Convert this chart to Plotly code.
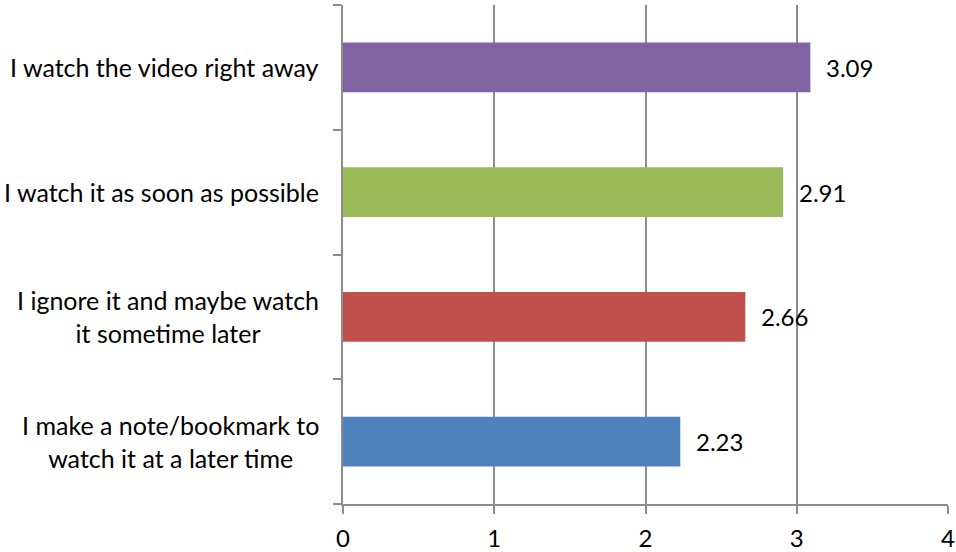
import plotly.graph_objects as go

# Survey responses, bottom to top as drawn
categories = [
    "I make a note/bookmark to<br>watch it at a later time",
    "I ignore it and maybe watch<br>it sometime later",
    "I watch it as soon as possible",
    "I watch the video right away",
]
values = [2.23, 2.66, 2.91, 3.09]
bar_colors = ["#4F81BD", "#C0504D", "#9BBB59", "#8064A2"]
x_ticks = [0, 1, 2, 3, 4]

FONT = "Lato"
GRID = "#8C8C8C"
FS = 25

fig = go.Figure()
fig.add_trace(go.Bar(
    x=values,
    y=list(range(len(categories))),
    orientation="h",
    marker=dict(color=bar_colors, line=dict(width=0)),
    width=0.4,
    hoverinfo="skip",
))

annotations = []
# value labels beside each bar
for i, v in enumerate(values):
    annotations.append(dict(
        x=v, y=i, xref="x", yref="y", text=f"{v:.2f}",
        showarrow=False, xanchor="left", xshift=14,
        font=dict(family=FONT, size=24, color="#000000"),
    ))
# category labels, centered line by line
for i, c in enumerate(categories):
    annotations.append(dict(
        x=0, y=i, xref="paper", yref="y", text=c,
        showarrow=False, xanchor="right", xshift=-22, align="center",
        font=dict(family=FONT, size=FS, color="#000000"),
    ))

fig.update_layout(
    width=956, height=552,
    margin=dict(l=343, r=8, t=5, b=48, autoexpand=False),
    paper_bgcolor="white", plot_bgcolor="white",
    showlegend=False,
    bargap=0.6,
    annotations=annotations,
    xaxis=dict(
        range=[0, 4], tickvals=x_ticks, ticktext=[str(t) for t in x_ticks],
        showgrid=True, gridcolor=GRID, gridwidth=1.5,
        zeroline=False, showline=True, linecolor=GRID, linewidth=1.5,
        ticks="outside", ticklen=8, tickcolor=GRID, tickwidth=1.5,
        ticklabeloverflow="allow", ticklabelstandoff=4, automargin=False,
        tickfont=dict(family=FONT, size=24, color="#000000"),
        fixedrange=True,
    ),
    yaxis=dict(
        range=[-0.5, 3.5], tickvals=[-0.5, 0.5, 1.5, 2.5, 3.5],
        showticklabels=False, showgrid=False, zeroline=False,
        showline=True, linecolor=GRID, linewidth=1.5,
        ticks="outside", ticklen=8, tickcolor=GRID, tickwidth=1.5,
        automargin=False,
        fixedrange=True,
    ),
)

fig.write_html("out.html")
